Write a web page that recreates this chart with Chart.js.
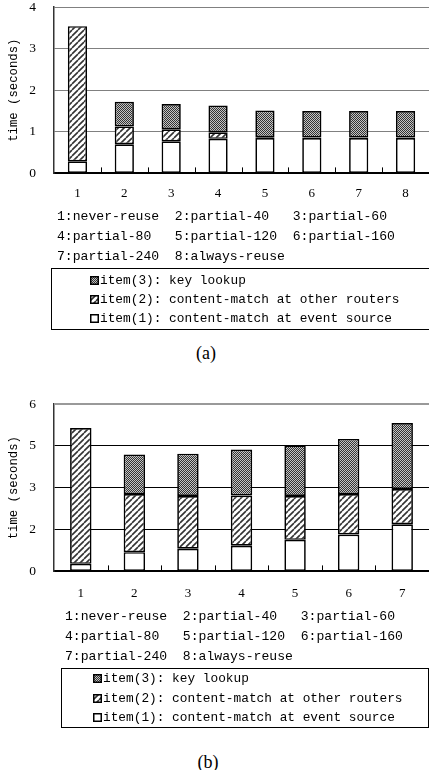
<!DOCTYPE html>
<html>
<head>
<meta charset="utf-8">
<script src="https://cdn.jsdelivr.net/npm/chart.js@4.4.1/dist/chart.umd.min.js"></script>
<style>
html,body{margin:0;width:429px;height:770px;overflow:hidden}
body{background:#fff;position:relative;color:#000;font-family:"Liberation Mono",monospace}
canvas.chart{position:absolute;left:0}
.desc{position:absolute;margin:0;font-family:"Liberation Mono",monospace;font-size:13.1px;line-height:20px;white-space:pre}
.legend{position:absolute;border:1.5px solid #000;box-sizing:border-box}
.row{position:absolute;font-size:12.8px;line-height:19px;white-space:pre;height:19px}
.row canvas{display:inline-block;vertical-align:-1px;margin-right:1px}
.cap{position:absolute;font-family:"Liberation Serif",serif;font-size:18px;transform:translate(-50%,-50%)}
</style>
</head>
<body>
<canvas id="chartA" class="chart" width="429" height="213" style="top:0"></canvas>
<canvas id="chartB" class="chart" width="429" height="218" style="top:397px"></canvas>

<pre class="desc" style="left:57px;top:207px">1:never-reuse  2:partial-40   3:partial-60
4:partial-80   5:partial-120  6:partial-160
7:partial-240  8:always-reuse</pre>
<div class="legend" style="left:51px;top:268px;width:378px;height:62px;border-right:none"></div>
<div class="row" style="left:90px;top:271px"><canvas class="ico" data-k="3" width="9" height="9"></canvas>item(3): key lookup</div>
<div class="row" style="left:90px;top:290px"><canvas class="ico" data-k="2" width="9" height="9"></canvas>item(2): content-match at other routers</div>
<div class="row" style="left:90px;top:309px"><canvas class="ico" data-k="1" width="9" height="9"></canvas>item(1): content-match at event source</div>
<div class="cap" style="left:206px;top:353px">(a)</div>

<pre class="desc" style="left:65px;top:607px">1:never-reuse  2:partial-40   3:partial-60
4:partial-80   5:partial-120  6:partial-160
7:partial-240  8:always-reuse</pre>
<div class="legend" style="left:61px;top:668px;width:368px;height:60px"></div>
<div class="row" style="left:93px;top:669px"><canvas class="ico" data-k="3" width="9" height="9"></canvas>item(3): key lookup</div>
<div class="row" style="left:93px;top:689px"><canvas class="ico" data-k="2" width="9" height="9"></canvas>item(2): content-match at other routers</div>
<div class="row" style="left:93px;top:708px"><canvas class="ico" data-k="1" width="9" height="9"></canvas>item(1): content-match at event source</div>
<div class="cap" style="left:208px;top:762px">(b)</div>

<script>
// chart (a)
const labelsA = ['1','2','3','4','5','6','7','8'];
const eventSourceA = [0.29,0.70,0.77,0.83,0.85,0.85,0.85,0.85];
const otherRoutersA = [3.25,0.43,0.29,0.16,0.02,0.01,0.01,0.01];
const keyLookupA = [null,0.59,0.61,0.64,0.64,0.64,0.64,0.64];
const ticksA = [0,1,2,3,4];

// chart (b)
const labelsB = ['1','2','3','4','5','6','7'];
const eventSourceB = [0.27,0.69,0.81,0.92,1.13,1.32,1.69];
const otherRoutersB = [4.87,2.08,1.89,1.80,1.57,1.45,1.26];
const keyLookupB = [null,1.42,1.52,1.65,1.82,1.98,2.37];
const ticksB = [0,1.5,3,4.5,6];

const seriesNames = ['item(1): content-match at event source','item(2): content-match at other routers','item(3): key lookup'];

function makePattern(kind){
const c = document.createElement('canvas');
const x = c.getContext('2d');
if(kind=='hatch'){
c.width = c.height = 6;
x.fillStyle = '#fff';
x.fillRect(0,0,6,6);
x.strokeStyle = '#333';
x.lineWidth = 1.6;
x.beginPath();
for(const k of [-6,0,6]){ x.moveTo(k,6); x.lineTo(k+6,0); }
x.stroke();
}else{
c.width = c.height = 2;
x.fillStyle = '#c4c4c4';
x.fillRect(0,0,2,2);
x.fillStyle = '#333';
x.fillRect(0,0,1,1);
x.fillRect(1,1,1,1);
}
return x.createPattern(c,'repeat');
}

const fills = {1:'#fff', 2:null, 3:null};

// small tick marks between categories + optional top frame line
const axisMarks = {
id:'axisMarks',
afterDatasetsDraw(chart, args, opts){
const ctx = chart.ctx;
const area = chart.chartArea;
const xs = chart.scales.x;
ctx.save();
ctx.strokeStyle = '#000';
ctx.lineWidth = 1;
for(let i=1;i<chart.data.labels.length;i++){
const px = Math.round((xs.getPixelForTick(i-1)+xs.getPixelForTick(i))/2)+0.5;
ctx.beginPath();
ctx.moveTo(px,area.bottom);
ctx.lineTo(px,area.bottom-6);
ctx.stroke();
}
if(opts.topColor){
ctx.strokeStyle = opts.topColor;
ctx.lineWidth = 2;
ctx.beginPath();
ctx.moveTo(area.left,area.top);
ctx.lineTo(area.right,area.top);
ctx.stroke();
}
ctx.restore();
}
};

function buildChart(id, labels, s1, s2, s3, ticks, gridColor, topColor, barPct, tickPad){
const mk = (name, data, fill) => ({
label:name,
data:data,
backgroundColor:fill,
borderColor:'#000',
borderWidth:1.7,
borderSkipped:false,
barPercentage:barPct,
categoryPercentage:1
});
const maxV = ticks[ticks.length-1];
return new Chart(document.getElementById(id),{
type:'bar',
data:{
labels:labels,
datasets:[
mk(seriesNames[0], s1, fills[1]),
mk(seriesNames[1], s2, fills[2]),
mk(seriesNames[2], s3, fills[3])
]
},
options:{
responsive:false,
animation:false,
layout:{padding:{top:7,right:0,left:0,bottom:0}},
plugins:{
legend:{display:false},
tooltip:{enabled:false},
axisMarks:{topColor:topColor}
},
scales:{
x:{
stacked:true,
grid:{display:false,drawTicks:false},
border:{display:true,color:'#000',width:2},
ticks:{padding:tickPad,color:'#000',font:{family:'Liberation Serif',size:13}}
},
y:{
stacked:true,
min:0,
max:maxV,
afterBuildTicks:s=>{ s.ticks = ticks.map(v=>({value:v})); },
afterFit:s=>{ s.width = 54; s.paddingTop = 0; s.paddingBottom = 0; },
grid:{
drawTicks:false,
color:c=> (topColor && c.tick && c.tick.value===maxV) ? 'rgba(0,0,0,0)' : gridColor,
lineWidth:1
},
border:{display:true,color:'#333',width:1.5},
ticks:{padding:18,color:'#000',font:{family:'Liberation Serif',size:13.5},callback:v=>Math.round(v)},
title:{display:true,text:'time (seconds)',color:'#000',padding:{top:6,bottom:0},font:{family:'Liberation Mono',size:12.3}}
}
}
},
plugins:[axisMarks]
});
}

fills[2] = makePattern('hatch');
fills[3] = makePattern('dots');

buildChart('chartA', labelsA, eventSourceA, otherRoutersA, keyLookupA, ticksA, '#808080', null, 0.41, 12);
buildChart('chartB', labelsB, eventSourceB, otherRoutersB, keyLookupB, ticksB, '#000', '#999', 0.40, 14);

document.querySelectorAll('canvas.ico').forEach(cv=>{
const x = cv.getContext('2d');
x.fillStyle = fills[cv.dataset.k];
x.fillRect(0,0,9,9);
x.strokeStyle = '#000';
x.lineWidth = 1.5;
x.strokeRect(0.75,0.75,7.5,7.5);
});
</script>
</body>
</html>
